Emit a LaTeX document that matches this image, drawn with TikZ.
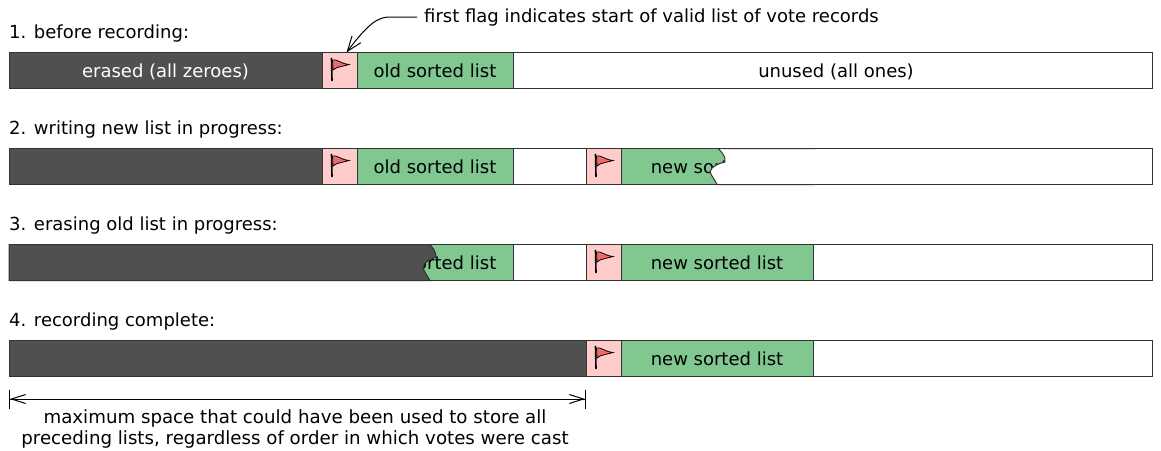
\documentclass[tikz,border=0pt]{standalone}
\usepackage{fontspec}
\setmainfont{DejaVu Sans}
\usepackage{tikz}
\usetikzlibrary{arrows.meta,positioning}

\tikzset{
  cell/.style={draw=black!80,line width=1pt,minimum height=36pt,inner sep=0pt,outer sep=0pt,text depth=0pt,text height=13pt,minimum width=#1},
  erased/.style={cell=#1,fill=eraseddark,text=white},
  unused/.style={cell=#1,fill=white},
  sorted/.style={cell=#1,fill=sortedgreen},
  flagbox/.style={cell=35pt,fill=flagpink},
  rowlabel/.style={anchor=base west,inner sep=0pt},
  flagmark/.pic={
    \draw[line width=0.8pt,fill=flagred] (-7,-10.5) .. controls (-3,-12) and (3,-6) .. (9.5,-6)
      .. controls (4,-4) and (-3,-4) .. (-6.5,-0.5) -- cycle;
    \draw[line width=1.6pt,line cap=round] (-8,-12) -- (-7.5,10);
  }
}
\definecolor{eraseddark}{HTML}{505050}
\definecolor{sortedgreen}{HTML}{80C890}
\definecolor{flagpink}{HTML}{FFCCCC}
\definecolor{flagred}{HTML}{F06A6A}

\begin{document}
\begin{tikzpicture}[x=1pt,y=-1pt,node distance=0pt,font=\fontsize{18}{21}\selectfont]
  \useasboundingbox (0,0) rectangle (1161,450);

  % row 1
  \node[rowlabel] (label1) at (9,38) {1. before recording:};
  \node[erased=313pt,anchor=west] (erased1) at (9,70.5) {erased (all zeroes)};
  \node[flagbox,right=of erased1] (flag1) {};
  \node[sorted=156pt,right=of flag1] (old1) {old sorted list};
  \node[unused=639pt,right=of old1] (free1) {\hspace{7pt}unused (all ones)};
  \pic at (flag1) {flagmark};
  \node[anchor=base west,inner sep=0pt] (note) at (424,22) {first flag indicates start of valid list of vote records};

  % row 2
  \node[rowlabel] (label2) at (9,134) {2. writing new list in progress:};
  \node[erased=313pt,anchor=west] (erased2) at (9,166.5) {};
  \node[flagbox,right=of erased2] (flag2) {};
  \node[sorted=156pt,right=of flag2] (old2) {old sorted list};
  \node[unused=73pt,right=of old2] (gap2) {};
  \node[flagbox,right=of gap2] (flagb2) {};
  \node[sorted=192pt,right=of flagb2] (new2) {new sorted list};
  \node[unused=339pt,right=of new2] (free2) {};
  \pic at (flag2) {flagmark};
  \pic at (flagb2) {flagmark};
  % torn edge, list only partly written
  \coordinate (tornhi) at (718,0 |- new2.north);
  \coordinate (tornlo) at (717,0 |- new2.south);
  \coordinate (wipehi2) at ([xshift=2pt]free2.north west);
  \coordinate (wipelo2) at ([xshift=2pt]free2.south west);
  \fill[white] (tornhi) .. controls (722,152) and (726,157) .. (725,162)
    .. controls (720,163) and (711,166) .. (710,172)
    .. controls (712,177) and (715,180) .. (tornlo) -- (wipelo2) -- (wipehi2) -- cycle;
  \draw[black!80,line width=1pt] (wipehi2) -- (tornhi) .. controls (722,152) and (726,157) .. (725,162)
    .. controls (720,163) and (711,166) .. (710,172)
    .. controls (712,177) and (715,180) .. (tornlo) -- (wipelo2);

  % row 3
  \node[rowlabel] (label3) at (9,230) {3. erasing old list in progress:};
  \node[erased=348pt,anchor=west] (erased3) at (9,262.5) {};
  \node[sorted=156pt,right=of erased3] (old3) {old sorted list};
  \node[unused=73pt,right=of old3] (gap3) {};
  \node[flagbox,right=of gap3] (flag3) {};
  \node[sorted=192pt,right=of flag3] (new3) {new sorted list};
  \node[unused=339pt,right=of new3] (free3) {};
  \pic at (flag3) {flagmark};
  % torn edge, erase only partly done
  \coordinate (wipehi) at (430,0 |- old3.north);
  \coordinate (wipelo) at (430,0 |- old3.south);
  \draw[black!80,line width=1pt,fill=eraseddark] (erased3.north west) -- (wipehi) .. controls (433,248) and (436,252) .. (436,257)
    .. controls (431,259) and (423,262) .. (423,268)
    .. controls (425,273) and (428,277) .. (wipelo) -- (erased3.south west) -- cycle;

  % row 4
  \node[rowlabel] (label4) at (9,326) {4. recording complete:};
  \node[erased=577pt,anchor=west] (erased4) at (9,358.5) {};
  \node[flagbox,right=of erased4] (flag4) {};
  \node[sorted=192pt,right=of flag4] (new4) {new sorted list};
  \node[unused=339pt,right=of new4] (free4) {};
  \pic at (flag4) {flagmark};

  % callout and span
  \coordinate (spanleft) at (9,399);
  \coordinate (spanright) at (586,399);
  \draw[-{Straight Barb[length=15pt,width=11pt]},line width=1pt]
    (note.west) ++(-7,0) -- ++(-25,0) .. controls (378,16) and (368,24) .. ([xshift=7pt]flag1.north);
  \draw[{Bar[width=19pt]Straight Barb[length=14pt,width=9pt]}-{Straight Barb[length=14pt,width=9pt]Bar[width=19pt]},line width=1pt]
    (spanleft) -- node[below=10pt,xshift=-2.5pt,align=center,inner sep=0pt,font=\fontsize{18.2}{21}\selectfont] (spantext)
    {maximum space that could have been used to store all\\preceding lists, regardless of order in which votes were cast} (spanright);
\end{tikzpicture}
\end{document}
